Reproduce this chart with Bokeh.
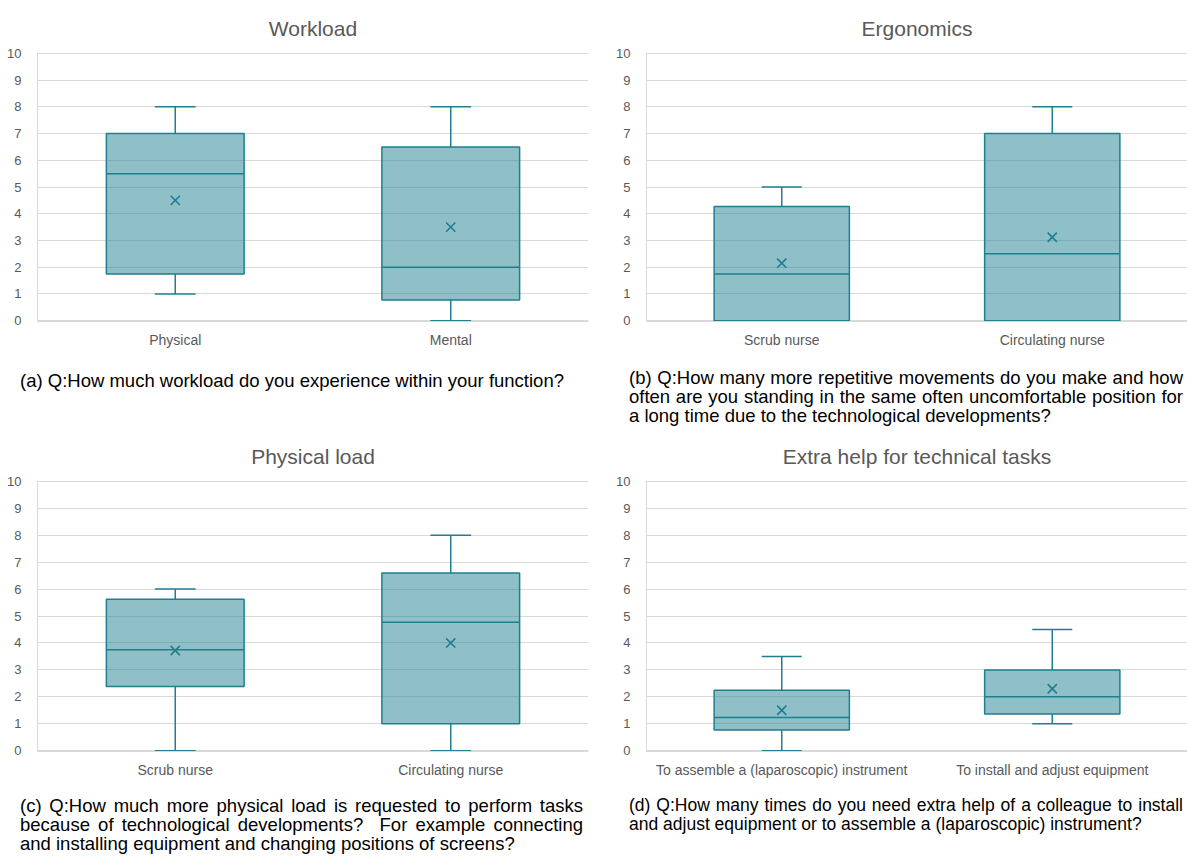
from bokeh.plotting import figure
from bokeh.models import ColumnDataSource, FactorRange, Range1d, FixedTicker, Title, Div
from bokeh.layouts import column, row
from bokeh.transform import dodge
from bokeh.embed import file_html
from bokeh.resources import INLINE

# ---------------- data ----------------
workload_cats = ["Physical", "Mental"]
workload_low = [1.0, 0.0]
workload_q1 = [1.75, 0.77]
workload_med = [5.5, 2.0]
workload_q3 = [7.0, 6.5]
workload_high = [8.0, 8.0]
workload_mean = [4.5, 3.5]

ergo_cats = ["Scrub nurse", "Circulating nurse"]
ergo_low = [0.0, 0.0]
ergo_q1 = [0.0, 0.0]
ergo_med = [1.75, 2.5]
ergo_q3 = [4.27, 7.0]
ergo_high = [5.0, 8.0]
ergo_mean = [2.15, 3.12]

phys_cats = ["Scrub nurse", "Circulating nurse"]
phys_low = [0.0, 0.0]
phys_q1 = [2.38, 1.0]
phys_med = [3.75, 4.77]
phys_q3 = [5.62, 6.6]
phys_high = [6.0, 8.0]
phys_mean = [3.72, 4.0]

help_cats = ["To assemble a (laparoscopic) instrument", "To install and adjust equipment"]
help_low = [0.0, 1.0]
help_q1 = [0.77, 1.36]
help_med = [1.23, 2.0]
help_q3 = [2.24, 3.0]
help_high = [3.5, 4.5]
help_mean = [1.5, 2.3]

y_ticks = [0, 1, 2, 3, 4, 5, 6, 7, 8, 9, 10]

caption_a = ["(a) Q:How much workload do you experience within your function?"]
caption_b = ["(b) Q:How many more repetitive movements do you make and how",
             "often are you standing in the same often uncomfortable position for",
             "a long time due to the technological developments?"]
caption_c = ["(c) Q:How much more physical load is requested to perform tasks",
             "because of technological developments?&nbsp; For example connecting",
             "and installing equipment and changing positions of screens?"]
caption_d = ["(d) Q:How many times do you need extra help of a colleague to install",
             "and adjust equipment or to assemble a (laparoscopic) instrument?"]

# ---------------- style ----------------
TEAL = "#1F7F8F"
GRID = "#D9D9D9"
LABEL = "#595959"
FONT = "Liberation Sans"


def box_panel(title, cats, low, q1, med, q3, high, mean,
              width, height, b_left, b_right, b_top, b_bottom, title_offset):
    p = figure(width=width, height=height, x_range=FactorRange(factors=cats),
               y_range=Range1d(-0.03, 10.03), output_backend="svg",
               toolbar_location=None, tools="",
               min_border_left=b_left, min_border_right=b_right,
               min_border_top=b_top, min_border_bottom=b_bottom)
    p.title = None
    t = Title(text=title, align="center", vertical_align="top", text_font=FONT,
              text_font_size="21px", text_font_style="normal", text_color=LABEL,
              standoff=22, offset=title_offset)
    p.add_layout(t, "above")

    src = ColumnDataSource(dict(cat=cats, low=low, q1=q1, med=med, q3=q3,
                                high=high, mean=mean))
    xr = p.x_range
    # whiskers
    p.segment(x0="cat", y0="q3", x1="cat", y1="high", source=src,
              line_color=TEAL, line_width=1.5)
    p.segment(x0="cat", y0="low", x1="cat", y1="q1", source=src,
              line_color=TEAL, line_width=1.5)
    p.segment(x0=dodge("cat", -0.074, range=xr), y0="high",
              x1=dodge("cat", 0.074, range=xr), y1="high", source=src,
              line_color=TEAL, line_width=1.5)
    p.segment(x0=dodge("cat", -0.074, range=xr), y0="low",
              x1=dodge("cat", 0.074, range=xr), y1="low", source=src,
              line_color=TEAL, line_width=1.5)
    # boxes
    p.vbar(x="cat", bottom="q1", top="q3", width=0.5, source=src,
           fill_color=TEAL, fill_alpha=0.5, line_color=TEAL, line_width=1.5)
    # medians
    p.segment(x0=dodge("cat", -0.25, range=xr), y0="med",
              x1=dodge("cat", 0.25, range=xr), y1="med", source=src,
              line_color=TEAL, line_width=1.5)
    # means
    p.scatter(x="cat", y="mean", source=src, marker="x", size=13,
              line_color=TEAL, line_width=1.6)

    p.outline_line_color = None
    p.xgrid.grid_line_color = None
    p.ygrid.grid_line_color = GRID
    p.ygrid.grid_line_width = 1
    p.yaxis.ticker = FixedTicker(ticks=y_ticks)
    for ax in (p.xaxis, p.yaxis):
        ax.axis_line_color = GRID
        ax.major_tick_line_color = None
        ax.minor_tick_line_color = None
        ax.major_label_text_color = LABEL
        ax.major_label_text_font = FONT
    p.yaxis.major_label_text_font_size = "13px"
    p.yaxis.major_label_standoff = 10
    p.xaxis.major_label_text_font_size = "14px"
    p.xaxis.major_label_standoff = 4
    return p


def caption_div(lines, width, height, pad_left, pad_top, text_width, size):
    parts = []
    for i, line in enumerate(lines):
        last = (i == len(lines) - 1)
        align = "text-align:left;" if last else "text-align:justify;text-align-last:justify;"
        parts.append(f'<div style="{align}white-space:nowrap;box-sizing:content-box;'
                     f'width:{text_width}px;">{line}</div>')
    html = (f'<div style="font-family:\'{FONT}\';font-size:{size};line-height:19px;'
            f'color:#000000;padding:{pad_top}px 0 0 {pad_left}px;margin:0;'
            f'box-sizing:content-box;width:{text_width}px;">' + "".join(parts) + '</div>')
    return Div(text=html, width=width, height=height, margin=0)


pa = box_panel("Workload", workload_cats, workload_low, workload_q1, workload_med,
               workload_q3, workload_high, workload_mean,
               600, 350, 37, 12, 52, 27, -12)
pb = box_panel("Ergonomics", ergo_cats, ergo_low, ergo_q1, ergo_med,
               ergo_q3, ergo_high, ergo_mean,
               587, 350, 46, 0, 52, 27, -8)
pc = box_panel("Physical load", phys_cats, phys_low, phys_q1, phys_med,
               phys_q3, phys_high, phys_mean,
               600, 350, 37, 12, 50, 29, -12)
pd = box_panel("Extra help for technical tasks", help_cats, help_low, help_q1, help_med,
               help_q3, help_high, help_mean,
               587, 350, 46, 0, 50, 29, -8)

da = caption_div(caption_a, 600, 80, 20, 21, 563, "18.5px")
db = caption_div(caption_b, 587, 80, 29, 18, 554, "18.5px")
dc = caption_div(caption_c, 600, 79, 20, 16, 563, "18.5px")
dd = caption_div(caption_d, 587, 79, 29, 16, 554, "17.5px")

layout = column(row(column(pa, da), column(pb, db)),
                row(column(pc, dc), column(pd, dd)))

open("out.html", "w").write(file_html(layout, INLINE))
